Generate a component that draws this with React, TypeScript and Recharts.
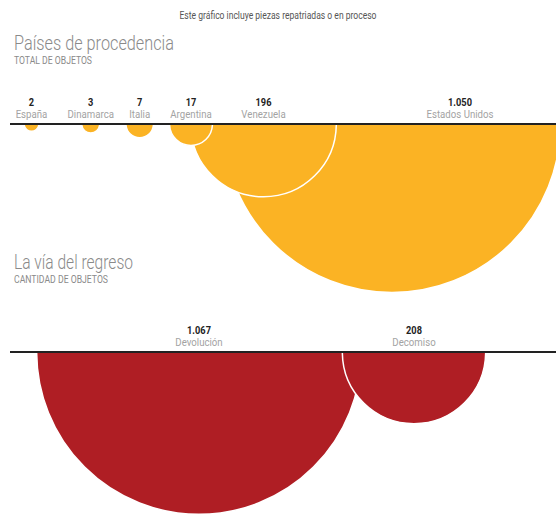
import React from "react";
import {
  ScatterChart,
  Scatter,
  XAxis,
  YAxis,
  ZAxis,
  ReferenceLine,
} from "recharts";

// --- data ---
const countries = ["España", "Dinamarca", "Italia", "Argentina", "Venezuela", "Estados Unidos"];
const countryCounts = [2, 3, 7, 17, 196, 1050];

const returnTypes = ["Devolución", "Decomiso"];
const returnCounts = [1067, 208];

// --- layout ---
const W = 556;
const H = 514;
const ROW_PX = [124, 352]; // where each baseline sits
const countryX = [31.5, 90.7, 139.7, 191, 263.5, 392];
const countryLabelShift = [0, 0, 0, 0, 0, 68];
const returnX = [199, 414];
const K_TOP = 5.2; // radius per sqrt(unit)
const K_BOTTOM = 4.97;

const YELLOW = "#fbb324";
const RED = "#af1e24";
const FONT = "Roboto, 'Noto Sans', sans-serif";

const fmt = (n: number) => String(n).replace(/\B(?=(\d{3})+(?!\d))/g, ".");

// drawn biggest first so the small ones sit on top
const countryRows = countries
  .map((name, i) => ({
    name,
    count: countryCounts[i],
    x: countryX[i],
    row: 0,
    shift: countryLabelShift[i],
  }))
  .reverse();

const returnRows = returnTypes.map((name, i) => ({
  name,
  count: returnCounts[i],
  x: returnX[i],
  row: 1,
  shift: 0,
}));

const span = ROW_PX[1] - ROW_PX[0];
const yDomain = [-ROW_PX[0] / span, (H - ROW_PX[0]) / span];

const Squeezed = ({ x, y, size, weight, fill, children }: any) => (
  <g transform={`translate(${x},${y}) scale(0.84,1)`}>
    <text
      x={0}
      y={0}
      textAnchor="middle"
      fontFamily={FONT}
      fontSize={size}
      fontWeight={weight}
      fill={fill}
    >
      {children}
    </text>
  </g>
);

const makeHalfCircle = (color: string) => (props: any) => {
  const { cx, cy, size, width, payload } = props;
  if (cx == null || cy == null) return null;
  const r = size != null ? Math.sqrt(size / Math.PI) : width / 2;
  const top = cy + 1;
  const w = Math.sqrt(Math.max(r * r - 1, 0));
  const lx = cx + (payload.shift || 0);
  return (
    <g>
      <path
        d={`M${cx - w},${top} A${r},${r} 0 0 0 ${cx + w},${top}`}
        fill={color}
        stroke="#fff"
        strokeWidth={1.5}
      />
      <Squeezed x={lx} y={cy - 18} size={11} weight={700} fill="#222">
        {fmt(payload.count)}
      </Squeezed>
      <Squeezed x={lx} y={cy - 6.5} size={11.5} weight={400} fill="#a3a3a3">
        {payload.name}
      </Squeezed>
    </g>
  );
};

const Heading = ({ y, title, sub, titleW, subW }: any) => (
  <g fontFamily={FONT}>
    <text x={14} y={y} fontSize={19.5} fontWeight={300} fill="#8a8a8a" textLength={titleW} lengthAdjust="spacingAndGlyphs">
      {title}
    </text>
    <text x={14} y={y + 14} fontSize={10} fill="#8a8a8a" textLength={subW} lengthAdjust="spacingAndGlyphs">
      {sub}
    </text>
  </g>
);

const maxTop = Math.max(...countryCounts);
const maxBottom = Math.max(...returnCounts);

export default function App() {
  return (
    <div style={{ position: "absolute", left: 0, top: 0, width: W, height: H, background: "#fff" }}>
      <ScatterChart width={W} height={H} margin={{ top: 0, right: 0, bottom: 0, left: 0 }}>
        <XAxis type="number" dataKey="x" domain={[0, W]} hide />
        <YAxis type="number" dataKey="row" domain={yDomain} reversed hide />
        <ZAxis
          zAxisId="top"
          type="number"
          dataKey="count"
          domain={[0, maxTop]}
          range={[0, Math.PI * K_TOP * K_TOP * maxTop]}
        />
        <ZAxis
          zAxisId="bottom"
          type="number"
          dataKey="count"
          domain={[0, maxBottom]}
          range={[0, Math.PI * K_BOTTOM * K_BOTTOM * maxBottom]}
        />
        <Scatter
          data={countryRows}
          zAxisId="top"
          shape={makeHalfCircle(YELLOW)}
          isAnimationActive={false}
        />
        <Scatter
          data={returnRows}
          zAxisId="bottom"
          shape={makeHalfCircle(RED)}
          isAnimationActive={false}
        />
        <ReferenceLine segment={[{ x: 10, y: 0 }, { x: W, y: 0 }]} stroke="#222" strokeWidth={2} />
        <ReferenceLine segment={[{ x: 10, y: 1 }, { x: W, y: 1 }]} stroke="#222" strokeWidth={2} />
      </ScatterChart>
      <svg
        width={W}
        height={H}
        style={{ position: "absolute", left: 0, top: 0, pointerEvents: "none" }}
      >
        <text
          x={278}
          y={18.5}
          textAnchor="middle"
          fontFamily={FONT}
          fontSize={10.5}
          fill="#555"
          textLength={197}
          lengthAdjust="spacingAndGlyphs"
        >
          Este gráfico incluye piezas repatriadas o en proceso
        </text>
        <Heading y={50} title="Países de procedencia" sub="TOTAL DE OBJETOS" titleW={160} subW={78} />
        <Heading y={269} title="La vía del regreso" sub="CANTIDAD DE OBJETOS" titleW={119} subW={94} />
      </svg>
    </div>
  );
}
